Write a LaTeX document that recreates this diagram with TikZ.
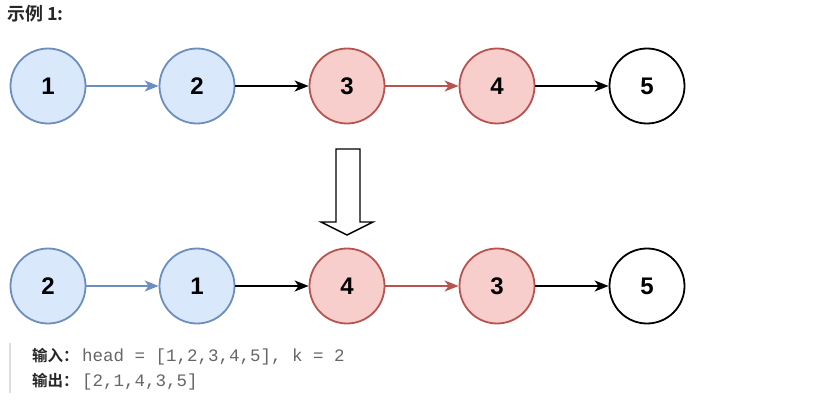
\documentclass[tikz,border=0pt]{standalone}
\usepackage{fontspec}
\setmainfont{Liberation Sans}
\setmonofont{Liberation Mono}
\newfontfamily\cjk{Noto Sans CJK SC}[BoldFont={Noto Sans CJK SC Bold}]
\usetikzlibrary{arrows.meta}
\definecolor{bfill}{HTML}{DAE8FC}
\definecolor{bline}{HTML}{6C8EBF}
\definecolor{rfill}{HTML}{F8CECC}
\definecolor{rline}{HTML}{B85450}
\definecolor{codegray}{HTML}{666666}
\definecolor{labelc}{HTML}{262626}
\definecolor{barc}{HTML}{DDDDDD}
\tikzset{
  nd/.style={circle, minimum size=75pt, inner sep=0pt, line width=1.8pt, font=\fontsize{24}{24}\selectfont\bfseries},
  bnode/.style={nd, draw=bline, fill=bfill},
  rnode/.style={nd, draw=rline, fill=rfill},
  wnode/.style={nd, draw=black, fill=white},
  conn/.style={line width=1.6pt, -{Stealth[length=14pt,width=11pt,inset=4pt]}},
  lbl/.style={font=\cjk\bfseries\fontsize{15.5}{15.5}\selectfont, text=labelc},
  code/.style={font=\ttfamily\fontsize{17.5}{17.5}\selectfont, text=codegray},
}
\begin{document}
\begin{tikzpicture}[x=1pt,y=-1pt]
\useasboundingbox (0,0) rectangle (836,401);
\node[anchor=west, inner sep=0pt, font=\cjk\bfseries\fontsize{18}{18}\selectfont, text=labelc] (title) at (7,14) {示例 1:};
% top row
\node[bnode] (a1) at (48,86) {1};
\node[bnode] (a2) at (197,86) {2};
\node[rnode] (a3) at (347,86) {3};
\node[rnode] (a4) at (497,86) {4};
\node[wnode] (a5) at (647,86) {5};
\draw[conn, bline] (a1) -- (a2);
\draw[conn, black] (a2) -- (a3);
\draw[conn, rline] (a3) -- (a4);
\draw[conn, black] (a4) -- (a5);
% block arrow
\draw[line width=1.4pt, line join=miter, fill=white] (336,149) -- (360,149) -- (360,222) -- (373,222) -- (347,235) -- (321,222) -- (336,222) -- cycle;
% bottom row
\node[bnode] (b1) at (48,286) {2};
\node[bnode] (b2) at (197,286) {1};
\node[rnode] (b3) at (347,286) {4};
\node[rnode] (b4) at (497,286) {3};
\node[wnode] (b5) at (647,286) {5};
\draw[conn, bline] (b1) -- (b2);
\draw[conn, black] (b2) -- (b3);
\draw[conn, rline] (b3) -- (b4);
\draw[conn, black] (b4) -- (b5);
% example text
\fill[barc] (9,343) rectangle (11,393);
\node[anchor=west, inner sep=0pt, lbl] (inl) at (32,356) {输入：};
\node[anchor=base west, inner sep=0pt, code] (inp) at ([xshift=3pt]inl.base east) {head = [1,2,3,4,5], k = 2};
\node[anchor=west, inner sep=0pt, lbl] (outl) at (32,381) {输出：};
\node[anchor=base west, inner sep=0pt, code] (out) at ([xshift=3pt]outl.base east) {[2,1,4,3,5]};
\end{tikzpicture}
\end{document}
